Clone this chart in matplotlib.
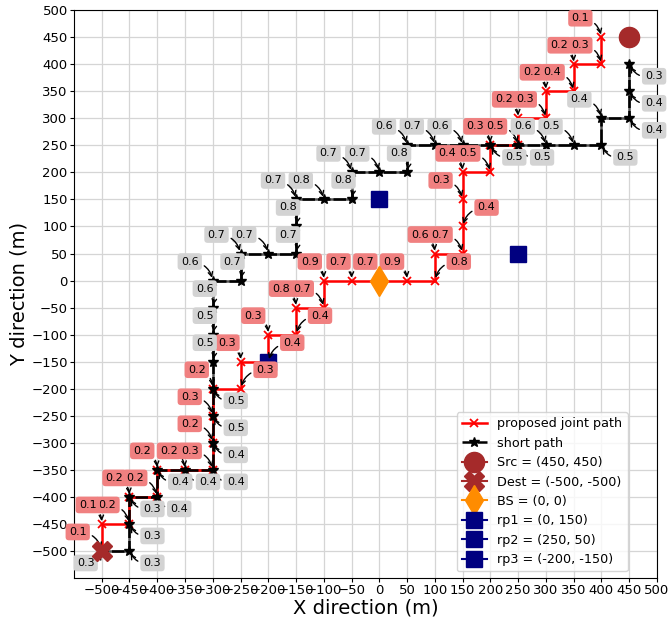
import numpy as np
import matplotlib
matplotlib.use('Agg')
import matplotlib.pyplot as plt

# proposed joint path (red), node coordinates and node values
joint_x = [400, 400, 350, 350, 300, 300, 250, 250, 200, 200, 150, 150, 150, 150,
           100, 100, 50, 0, -50, -100, -100, -150, -150, -200, -200, -250, -250,
           -300, -300, -300, -300, -350, -400, -400, -450, -450, -500, -500]
joint_y = [450, 400, 400, 350, 350, 300, 300, 250, 250, 200, 200, 150, 100, 50,
           50, 0, 0, 0, 0, 0, -50, -50, -100, -100, -150, -150, -200,
           -200, -250, -300, -350, -350, -350, -400, -400, -450, -450, -500]
joint_val = [0.1, 0.3, 0.2, 0.4, 0.2, 0.3, 0.2, 0.5, 0.3, 0.5, 0.4, 0.3, 0.4, 0.7,
             0.6, 0.8, 0.9, 0.7, 0.7, 0.9, 0.7, 0.8, 0.4, 0.3, 0.4, 0.3, 0.3,
             0.2, 0.3, 0.2, 0.3, 0.2, 0.2, 0.2, 0.2, 0.2, 0.1, 0.1]

# short path (black)
short_x = [450, 450, 450, 400, 400, 350, 300, 250, 200, 150, 100, 50, 50, 0, -50,
           -50, -100, -150, -150, -150, -200, -250, -250, -300, -300, -300, -300,
           -300, -300, -300, -300, -350, -400, -400, -450, -450, -450, -500]
short_y = [400, 350, 300, 300, 250, 250, 250, 250, 250, 250, 250, 250, 200, 200, 200,
           150, 150, 150, 100, 50, 50, 50, 0, 0, -50, -100, -150,
           -200, -250, -300, -350, -350, -350, -400, -400, -450, -500, -500]
short_val = [0.3, 0.4, 0.4, 0.4, 0.5, 0.5, 0.6, 0.5, 0.5, 0.6, 0.7, 0.6, 0.8, 0.7, 0.7,
             0.8, 0.8, 0.7, 0.8, 0.7, 0.7, 0.7, 0.7, 0.6, 0.6, 0.5, 0.5,
             0.5, 0.5, 0.4, 0.4, 0.4, 0.4, 0.4, 0.3, 0.3, 0.3, 0.3]

src = (450, 450)
dest = (-500, -500)
bs = (0, 0)
rps = [(0, 150), (250, 50), (-200, -150)]

ticks = np.arange(-500, 501, 50)

# label offsets in pixels (layout only)
joint_dx = [-21, -21, -14, -21, -14, -21, -14, -23, -15, -22, -15, -22, 24, -22,
            -15, 24, -15, -14, -13, -14, -22, -15, 24, -15, 24, -13, 25,
            -16, -23, -23, -23, -16, -15, -22, -15, -22, -14, -24]
short_dx = [25, 25, 25, -22, 24, -23, -23, 24, 24, -23, -23, -23, -8, -22, -23,
            -8, -23, -23, -8, -8, -24, -24, -8, -23, -8, -8, -8,
            23, 23, 23, 23, 23, 23, 22, 23, 23, 23, -16]
short_up = [False, False, False, True, False, True, True, False, False, True, True, True, True, True, True,
            True, True, True, True, True, True, True, True, True, True, True, True,
            False, False, False, False, False, False, False, False, False, False, False]

fig = plt.figure(figsize=(6.7, 6.24), dpi=100)
ax = fig.add_axes([0.1104, 0.0737, 0.870, 0.910])

ax.plot(short_x, short_y, '-', color='#555555', lw=1.8, zorder=2)
ax.plot(joint_x, joint_y, '-x', color='red', lw=1.8, ms=6, mew=1.3, zorder=3,
        label='proposed joint path')
ax.plot(short_x, short_y, '-*', color='black', lw=1.8, ms=7, dashes=(5, 1.2), zorder=4,
        label='short path')

ax.plot([src[0]], [src[1]], marker='o', color='brown', ms=14.5, label=f'Src = ({src[0]}, {src[1]})', zorder=6)
ax.plot([dest[0]], [dest[1]], marker='X', color='brown', ms=15, label=f'Dest = ({dest[0]}, {dest[1]})', zorder=6)
ax.plot([bs[0]], [bs[1]], marker='d', color='darkorange', ms=15, label=f'BS = ({bs[0]}, {bs[1]})', zorder=6)
for i, (rx, ry) in enumerate(rps):
    ax.plot([rx], [ry], marker='s', color='navy', ms=12, label=f'rp{i+1} = ({rx}, {ry})', zorder=4.5)


def put_label(x, y, val, dx, dy, fc):
    rad = 0.4 * np.sign(dx * dy)
    ax.annotate(f'{val}', xy=(x, y), xytext=(dx, dy), textcoords='offset pixels',
                ha='center', va='center', fontsize=8, zorder=5,
                bbox=dict(boxstyle='round,pad=0.3', fc=fc, ec='none'),
                arrowprops=dict(arrowstyle='->', color='black', lw=1,
                                connectionstyle=f'arc3,rad={rad}'))


for x, y, v, dx in zip(joint_x, joint_y, joint_val, joint_dx):
    put_label(x, y, v, dx, 19, 'lightcoral')
for x, y, v, dx, up in zip(short_x, short_y, short_val, short_dx, short_up):
    put_label(x, y, v, dx, 19 if up else -12, 'lightgray')

ax.set_xlim(-550, 500)
ax.set_ylim(-550, 500)
ax.set_xticks(ticks)
ax.set_yticks(ticks)
ax.tick_params(labelsize=9.5, length=3, pad=1.5)
ax.grid(True, color='#d5d5d5', lw=0.9)
ax.set_axisbelow(True)
ax.set_xlabel('X direction (m)', fontsize=14, labelpad=1)
ax.set_ylabel('Y direction (m)', fontsize=14, labelpad=2)
ax.legend(loc='lower right', bbox_to_anchor=(0.95, 0.012), borderaxespad=0, fontsize=9.2)

fig.savefig('out.png', dpi=100)
